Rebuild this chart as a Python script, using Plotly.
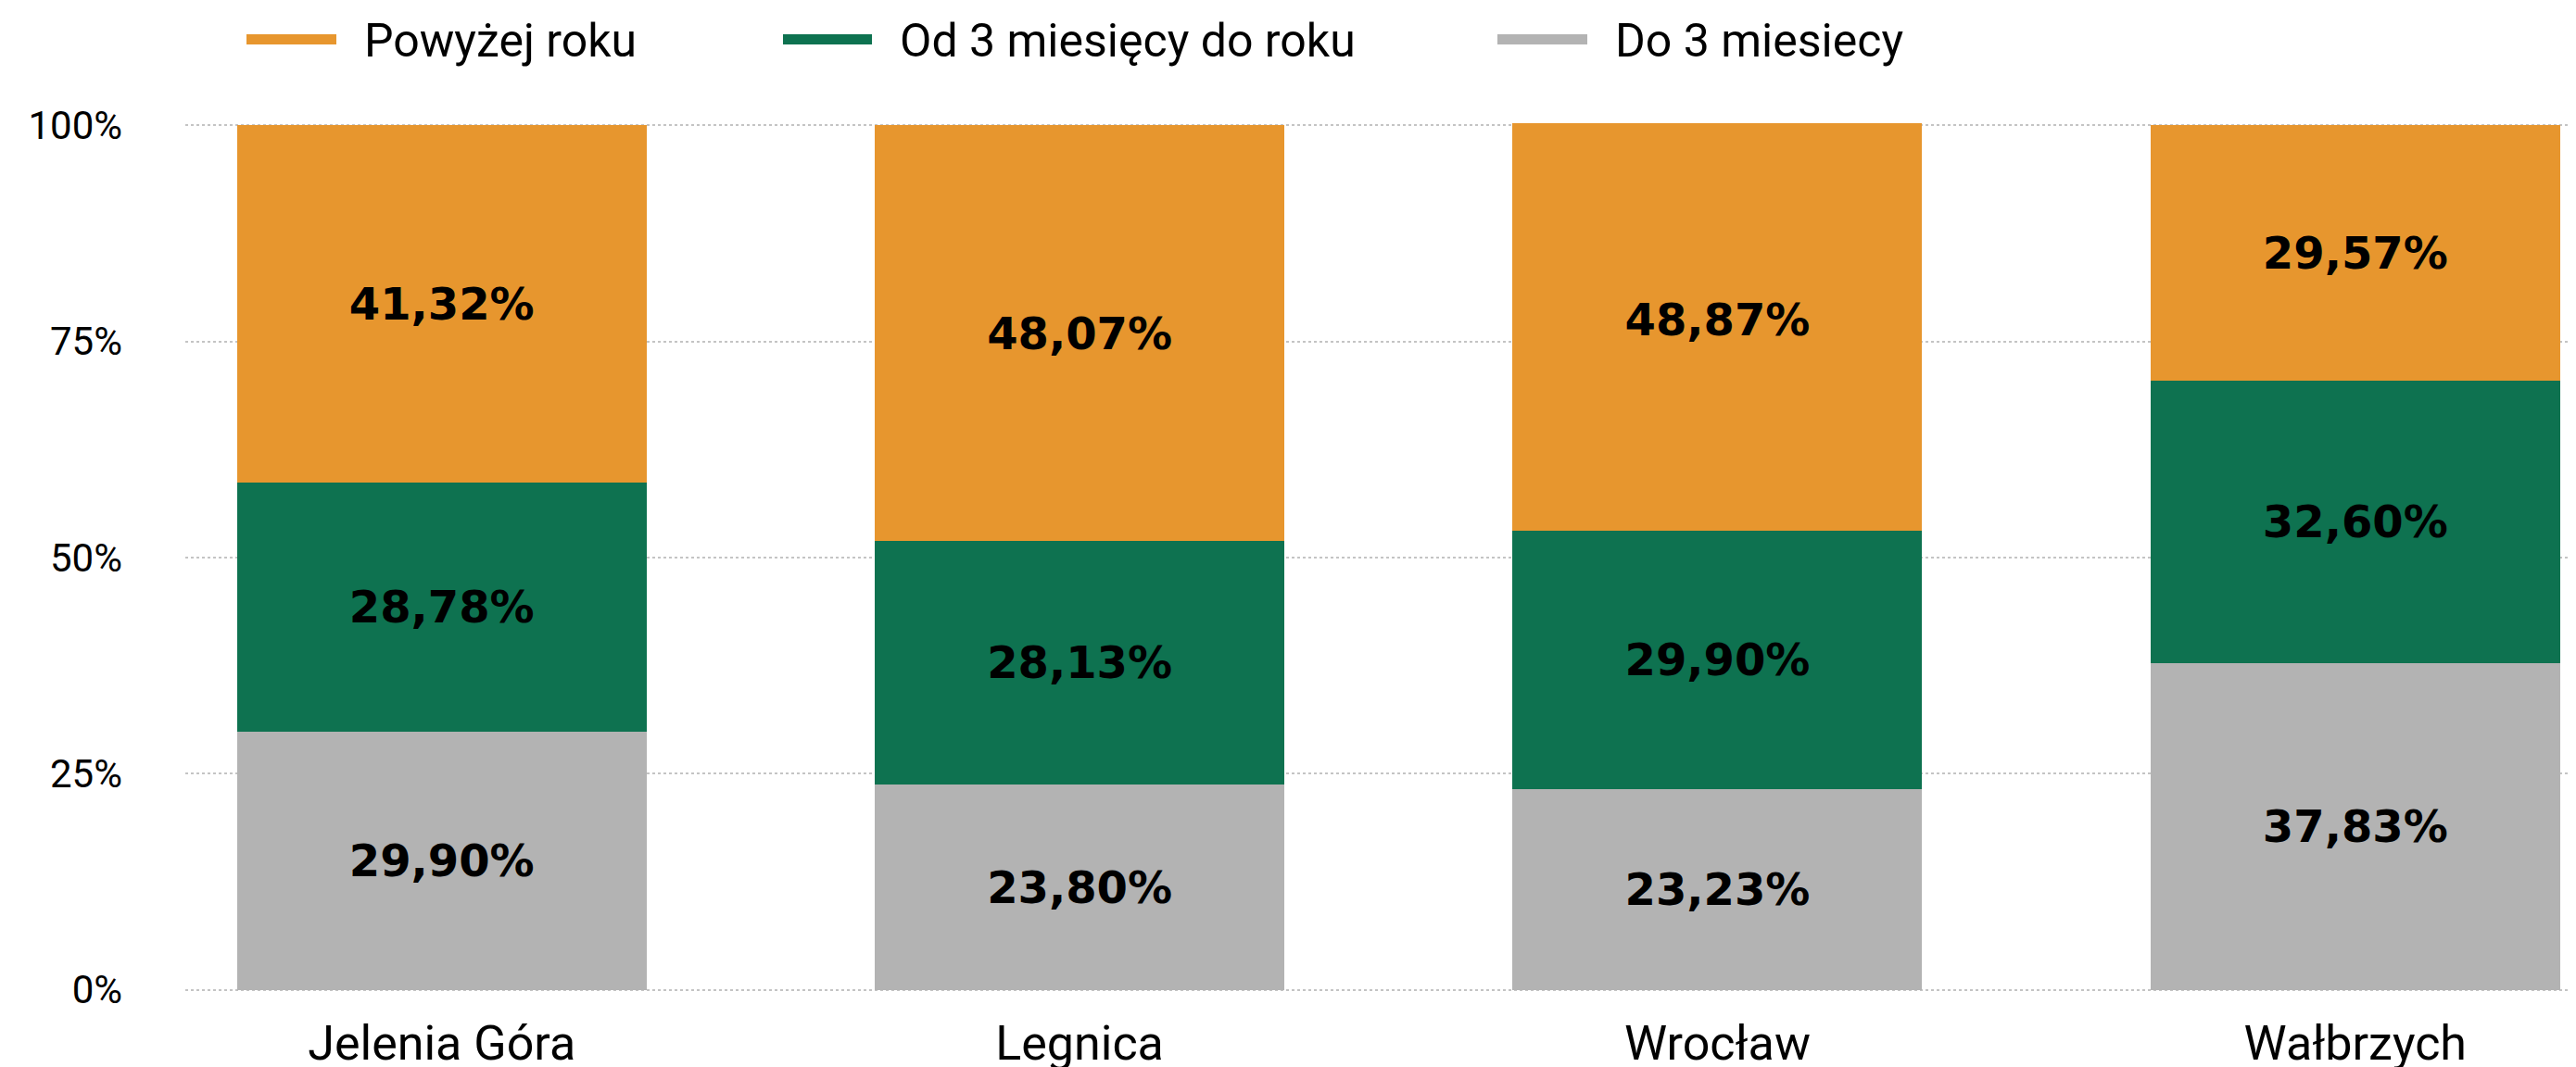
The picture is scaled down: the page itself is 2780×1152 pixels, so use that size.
import plotly.graph_objects as go

categories = ["Jelenia Góra", "Legnica", "Wrocław", "Wałbrzych"]
series_names = ["Do 3 miesiecy", "Od 3 miesięcy do roku", "Powyżej roku"]
do_3_miesiecy = [29.90, 23.80, 23.23, 37.83]
od_3_do_roku = [28.78, 28.13, 29.90, 32.60]
powyzej_roku = [41.32, 48.07, 48.87, 29.57]
y_ticks = [0, 25, 50, 75, 100]
y_tick_labels = ["0%", "25%", "50%", "75%", "100%"]

colors = {"Do 3 miesiecy": "#B3B3B3",
          "Od 3 miesięcy do roku": "#0E7250",
          "Powyżej roku": "#E7962E"}

W, H = 2780, 1152
OFF = 8  # page body margin
ML, MR, MT, MB = 192, 8, 125, 89
PW, PH = W - ML - MR, H - MT - MB
PLOT_LEFT = OFF + ML
PLOT_BOTTOM = OFF + H - MB

fig = go.Figure()
for name, vals in zip(series_names, [do_3_miesiecy, od_3_do_roku, powyzej_roku]):
    fig.add_trace(go.Bar(
        x=categories, y=vals, name=name,
        marker=dict(color=colors[name], line=dict(width=0)),
        width=0.642,
        texttemplate="%{y:.2f}%",
        textposition="inside", insidetextanchor="middle",
        textangle=0,
        textfont=dict(family="DejaVu Sans", size=48, color="#000000", weight="bold"),
        showlegend=False,
    ))

# custom legend (long flat swatches)
legend_items = [("Powyżej roku", 266, 363, 391),
                ("Od 3 miesięcy do roku", 845, 941, 969),
                ("Do 3 miesiecy", 1616, 1713, 1741)]
def px_x(p):
    return (p - PLOT_LEFT) / PW
def px_y(p):
    return (PLOT_BOTTOM - p) / PH
for name, x0, x1, tx in legend_items:
    fig.add_shape(type="rect", xref="paper", yref="paper",
                  x0=px_x(x0), x1=px_x(x1), y0=px_y(48), y1=px_y(37),
                  fillcolor=colors[name], line=dict(width=0))
    fig.add_annotation(xref="paper", yref="paper", x=px_x(tx), y=px_y(44),
                       text=name, showarrow=False, xanchor="left", yanchor="middle",
                       font=dict(family="Roboto", size=50, color="#000000"))

fig.update_layout(
    width=W, height=H,
    margin=dict(l=ML, r=MR, t=MT, b=MB, pad=0, autoexpand=False),
    barmode="stack",
    bargap=0.358,
    separators=", ",
    plot_bgcolor="#FFFFFF", paper_bgcolor="#FFFFFF",
    xaxis=dict(
        type="category", range=[-0.402, 3.346], automargin=False,
        showgrid=False, zeroline=False, showline=False, ticks="",
        tickfont=dict(family="Roboto", size=52, color="#000000"),
        ticklabelstandoff=20,
    ),
    yaxis=dict(
        range=[-0.25, 100.25], automargin=False,
        tickvals=y_ticks, ticktext=y_tick_labels,
        showgrid=True, gridcolor="#C4C4C4", gridwidth=2, griddash="dot",
        zeroline=False, showline=False, ticks="",
        tickfont=dict(family="Roboto", size=42, color="#000000"),
        ticklabelstandoff=67,
    ),
)

fig.write_html("out.html")
